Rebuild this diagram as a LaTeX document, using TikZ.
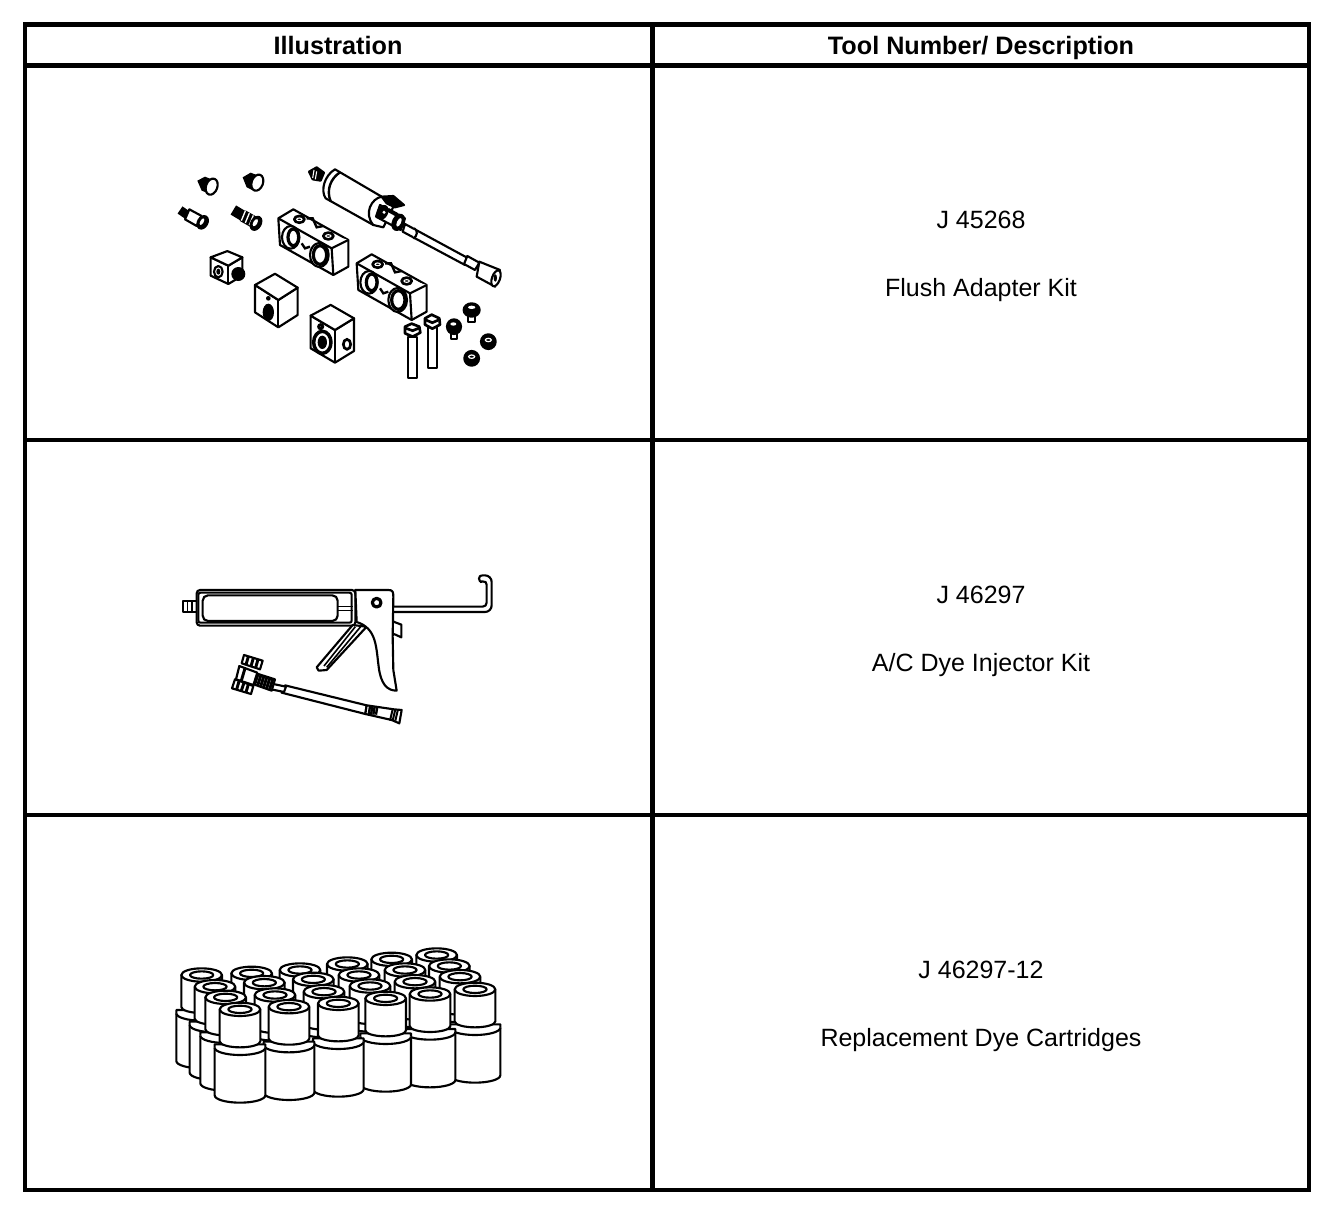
\documentclass[tikz,border=0pt]{standalone}
\usepackage{fontspec}
\setmainfont{Liberation Sans}
\usepackage{tikz}

\tikzset{
    rule/.style={line width=3.4pt, draw=black},
    part/.style={line width=1.6pt, draw=black, fill=white, line join=round},
    fine/.style={line width=1.2pt, draw=black, line join=round},
    dark/.style={line width=1.6pt, draw=black, fill=black, line join=round},
    heading/.style={anchor=base, font=\fontsize{18.9pt}{22pt}\selectfont\bfseries},
    entry/.style={anchor=base, font=\fontsize{18.75pt}{22pt}\selectfont}
}

% one dye cartridge, top ring centred on #1,#2
\newcommand{\cartridge}[2]{
    \begin{scope}[shift={(#1,#2)}]
        \filldraw[part] (-76,105) -- (-76,258) arc (180:0:76 and 22) -- (76,105) -- cycle;
        \draw[part] (-76,115) arc (180:0:76 and 22);
        \filldraw[part] (-61,0) -- (-61,96) arc (180:0:61 and 18) -- (61,0) -- cycle;
        \filldraw[part] (0,0) ellipse (61 and 20);
        \draw[part] (0,0) ellipse (35 and 11);
    \end{scope}
}

% small cube block, from top left corner
\newcommand{\cubeblock}[8]{
    \filldraw[part] (#1,#2) -- (#3,#4) -- (#5,#6) -- (#5,{#6+#8}) -- (#3,{#4+#8}) -- (#1,{#2+#8}) -- cycle;
    \draw[part] (#1,#2) -- (#7,{#2-(#4-#2)*0.75}) -- (#5,#6) -- (#3,#4) -- cycle;
    \draw[part] (#3,#4) -- (#3,{#4+#8});
}

\begin{document}
\begin{tikzpicture}[x=0.75pt, y=-0.75pt]
    \useasboundingbox (0,0) rectangle (1344,1220);
    \fill[white] (0,0) rectangle (1344,1220);

    % table
    \draw[rule] (25,24.5) rectangle (1309,1190);
    \draw[rule, line width=4.2pt] (25,65.5) -- (1309,65.5);
    \draw[rule] (25,440) -- (1309,440);
    \draw[rule] (25,815) -- (1309,815);
    \draw[rule] (652.5,24.5) -- (652.5,1190);

    \node[heading] (headIllus) at (338,54.5) {Illustration};
    \node[heading] (headTool) at (981,54.5) {Tool Number/ Description};
    \node[entry] (numFlush) at (981,228.5) {J 45268};
    \node[entry] (descFlush) at (981,296) {Flush Adapter Kit};
    \node[entry] (numInject) at (981,603) {J 46297};
    \node[entry] (descInject) at (981,671) {A/C Dye Injector Kit};
    \node[entry] (numDye) at (981,978) {J 46297-12};
    \node[entry] (descDye) at (981,1046) {Replacement Dye Cartridges};

    % flush adapter kit
    \begin{scope}[shift={(160,150)}, scale=1/3]
        % fittings
        \fill (112,92) -- (135,80) -- (160,90) -- (150,132) -- (125,122) -- cycle;
        \filldraw[part, rotate around={-20:(155,110)}] (155,110) ellipse (17 and 25);
        \fill (248,82) -- (272,68) -- (298,78) -- (285,124) -- (260,112) -- cycle;
        \filldraw[part, rotate around={-20:(292,98)}] (292,98) ellipse (17 and 25);
        \draw[line width=6.5pt] (60,180) -- (85,197);
        \filldraw[part] (88,178) -- (125,198) -- (110,228) -- (75,208) -- cycle;
        \filldraw[dark, rotate around={-30:(128,217)}] (128,217) ellipse (14 and 20);
        \fill[white, rotate around={-30:(126,215)}] (126,215) ellipse (5 and 11);
        \draw[line width=8pt] (220,180) -- (250,198);
        \draw[line width=9pt] (248,197) -- (285,218);
        \foreach \i in {0,12,24} {\draw[white, line width=1pt] ({256+\i},{183+\i*.55}) -- ({244+\i},{212+\i*.55});}
        \filldraw[dark, rotate around={-30:(288,220)}] (288,220) ellipse (14 and 21);
        \fill[white, rotate around={-30:(286,218)}] (286,218) ellipse (6 and 12);

        % pump cylinder
        \filldraw[dark] (447,65) -- (470,52) -- (492,68) -- (482,92) -- (458,88) -- cycle;
        \foreach \i in {0,8} {\draw[white, line width=.8pt] ({462+\i},{60+\i*.5}) -- ({458+\i},{84+\i*.5});}
        \filldraw[part] (525,58) .. controls (495,75) and (480,120) .. (497,145) -- (640,225) -- (665,140) -- cycle;
        \draw[line width=1.8pt] (540,67) .. controls (512,85) and (498,120) .. (512,154);
        \filldraw[part] (665,140) .. controls (635,145) and (610,190) .. (640,225) -- (670,232) -- (700,170) -- cycle;
        \filldraw[part] (735,222) -- (925,325) -- (915,345) -- (728,245) -- cycle;
        \draw[part] (762,234) .. controls (775,242) and (772,258) .. (760,266);
        \filldraw[part] (922,318) -- (958,338) -- (945,360) -- (912,342) -- cycle;
        \filldraw[part] (958,335) -- (1020,360) -- (1005,410) -- (950,380) -- cycle;
        \filldraw[part, rotate around={-20:(1008,385)}] (1008,385) ellipse (12 and 25);
        \fill (1006,384) ellipse (5 and 11);
        \filldraw[dark] (665,140) -- (700,138) -- (732,165) -- (705,172) -- (680,160) -- cycle;
        \filldraw[part] (660,165) -- (735,205) -- (722,240) -- (648,200) -- cycle;
        \filldraw[dark, rotate around={-25:(668,187)}] (668,187) ellipse (13 and 20);
        \fill[white] (672,187) circle (5);
        \filldraw[dark, rotate around={-25:(715,217)}] (715,217) ellipse (16 and 24);
        \fill[white, rotate around={-25:(717,217)}] (717,217) ellipse (6 and 14);
        \draw[line width=3pt] (685,180) -- (712,195);

        % long blocks
        \foreach \dx/\dy in {0/0, 235/135} {
            \begin{scope}[shift={(\dx,\dy)}]
                \filldraw[part] (355,205) -- (400,178) -- (565,270) -- (565,350) -- (520,375) -- (360,285) -- cycle;
                \draw[part] (355,205) -- (515,295) -- (565,270);
                \draw[part] (515,295) -- (520,375);
                \draw[line width=1.8pt] (440,205) -- (458,205) -- (470,232) -- (490,228);
                \filldraw[dark] (418,208) ellipse (16 and 11);
                \draw[white, line width=.8pt] (418,208) ellipse (8 and 4);
                \filldraw[dark] (505,258) ellipse (16 and 11);
                \draw[white, line width=.8pt] (505,258) ellipse (8 and 4);
                \draw[part] (392,262) ellipse (26 and 34);
                \filldraw[part, line width=2.4pt] (400,262) ellipse (16 and 25);
                \draw[part] (478,315) ellipse (28 and 36);
                \filldraw[part, line width=2.4pt] (480,315) ellipse (20 and 28);
                \draw[line width=1.8pt] (425,280) -- (435,295) -- (450,290);
            \end{scope}
        }

        % cubes
        \cubeblock{152}{322}{205}{347}{247}{322}{202}{55}
        \fill (235,372) circle (21);
        \draw[part] (175,365) ellipse (13 and 17);
        \fill (175,365) ellipse (6 and 9);
        \cubeblock{285}{405}{355}{450}{413}{413}{345}{82}
        \fill (325,487) ellipse (17 and 26);
        \fill (325,445) circle (7);
        \cubeblock{452}{497}{525}{540}{582}{505}{512}{98}
        \filldraw[part, line width=2.6pt] (487,577) ellipse (26 and 33);
        \fill (487,577) ellipse (14 and 20);
        \draw[line width=2.2pt] (482,530) circle (6);
        \draw[line width=2pt] (561,583) ellipse (11 and 15);

        % bolts
        \filldraw[part] (745,560) rectangle (770,685);
        \filldraw[part, line width=2pt] (735,530) -- (755,521) -- (778,530) -- (781,548) -- (758,560) -- (735,550) -- cycle;
        \draw[line width=2pt] (735,534) -- (758,542) -- (778,534);
        \filldraw[part] (805,530) -- (832,530) -- (832,655) -- (805,655) -- cycle;
        \filldraw[part, line width=2pt] (795,505) -- (815,494) -- (838,505) -- (840,524) -- (817,536) -- (795,524) -- cycle;
        \draw[line width=2pt] (795,509) -- (817,518) -- (838,509);

        % nuts
        \filldraw[part] (925,490) rectangle (945,516);
        \filldraw[dark] (935,480) ellipse (24 and 20);
        \fill[white] (935,472) ellipse (11 and 5);
        \filldraw[part] (872,545) rectangle (892,568);
        \filldraw[dark] (882,530) ellipse (21 and 22);
        \fill[white] (880,522) ellipse (9 and 5);
        \filldraw[dark] (985,575) ellipse (22 and 22);
        \draw[white, line width=.9pt] (985,570) ellipse (9 and 5);
        \filldraw[dark] (935,625) ellipse (22 and 22);
        \draw[white, line width=.9pt] (935,620) ellipse (9 and 5);
    \end{scope}

    % injector gun and hose
    \begin{scope}[shift={(170,560)}, scale=1/3]
        \filldraw[part] (40,122) rectangle (82,155);
        \draw[fine] (52,122) -- (52,155) (66,122) -- (66,155);
        \filldraw[part, rounded corners=2.5pt] (80,90) rectangle (556,197);
        \draw[part, fill=none, rounded corners=1.5pt] (85,98) -- (545,98) -- (545,188) -- (85,188) -- cycle;
        \filldraw[part, rounded corners=4pt] (98,106) rectangle (503,183);
        \draw[fine] (505,140) -- (548,140) (505,151) -- (548,151);
        % rod and hook
        \draw[line width=1.6pt, rounded corners=3pt] (670,140) -- (950,140) -- (950,62) -- (930,66);
        \draw[line width=1.6pt, rounded corners=5pt] (670,156) -- (965,156) -- (965,46) -- (936,46);
        \draw[line width=1.6pt] (936,46) arc (270:90:9 and 10);
        % clip
        \draw[part, fill=none] (668,184) -- (694,194) -- (694,232) -- (672,222);
        % trigger
        \filldraw[part] (548,195) -- (440,322) -- (446,332) -- (470,330) -- (590,200) -- cycle;
        \draw[fine] (556,200) -- (462,318);
        \draw[fine] (572,200) -- (470,322);
        % handle and plate
        \filldraw[part] (556,90) -- (655,90) .. controls (668,90) and (670,95) .. (670,110) -- (668,230) -- (670,330) -- (680,392)
            .. controls (650,392) and (632,370) .. (626,320) .. controls (618,260) and (620,205) .. (560,186) -- cycle;
        \filldraw[part, line width=2.4pt] (620,128) circle (13);
        % hose
        \filldraw[part] (345,376) -- (590,436) -- (586,462) -- (335,398) -- cycle;
        \draw[part] (310,372) -- (348,380) -- (342,396) -- (304,388) -- cycle;
        \filldraw[part] (590,436) -- (672,448) -- (695,450) -- (688,490) -- (665,480) -- (586,462) -- cycle;
        \foreach \i in {0,7,14,22} {\draw[line width=1.8pt] ({600+\i},440) -- ({596+\i},464);}
        \foreach \i in {0,8,16} {\draw[line width=1.5pt] ({668+\i},448) -- ({660+\i},482);}
        % coupler
        \filldraw[part] (258,340) -- (315,358) -- (305,392) -- (248,372) -- cycle;
        \foreach \i in {0,9,18,27,36,45} {\draw[line width=2.2pt] ({264+\i},{342+\i*.3}) -- ({254+\i},{374+\i*.3});}
        \filldraw[part] (222,285) -- (278,302) -- (270,328) -- (215,310) -- cycle;
        \draw[line width=2.2pt] (235,290) -- (228,314) (250,294) -- (243,319) (264,298) -- (257,323);
        \filldraw[part] (208,318) -- (262,338) -- (250,375) -- (198,358) -- cycle;
        \draw[line width=2.2pt] (225,325) -- (214,362);
        \filldraw[part] (195,358) -- (250,378) -- (243,402) -- (186,385) -- cycle;
        \draw[line width=2.2pt] (207,364) -- (200,388) (222,368) -- (214,392) (235,373) -- (228,397);
    \end{scope}

    % dye cartridges
    \begin{scope}[shift={(160,940)}, scale=1/3]
        \foreach \x/\y in {830/45, 695/58, 562/72, 420/90, 275/100, 125/105,
                           868/78, 735/90, 597/105, 460/118, 313/128, 165/140,
                           900/110, 765/125, 630/138, 492/155, 345/165, 197/172,
                           945/148, 810/162, 677/175, 535/190, 387/200, 240/208} {
            \cartridge{\x}{\y}
        }
    \end{scope}
\end{tikzpicture}
\end{document}
